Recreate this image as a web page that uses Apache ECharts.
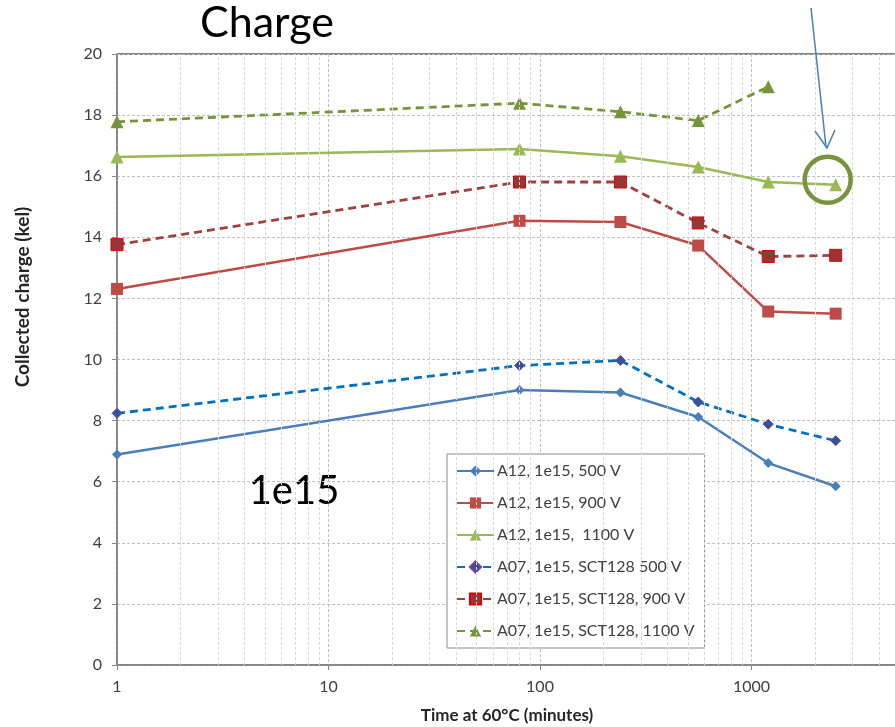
<!DOCTYPE html>
<html>
<head>
<meta charset="utf-8">
<script src="https://cdn.jsdelivr.net/npm/echarts@6/dist/echarts.min.js"></script>
<style>
  html, body { margin: 0; padding: 0; background: #fff; }
  #chart { width: 895px; height: 727px; }
</style>
</head>
<body>
<div id="chart"></div>
<script>
// time at 60C (minutes)
const times = [1, 80, 240, 560, 1200, 2500];

const a12_500 = [6.89, 9.00, 8.92, 8.12, 6.61, 5.85];
const a12_900 = [12.31, 14.54, 14.50, 13.73, 11.57, 11.50];
const a12_1100 = [16.63, 16.89, 16.65, 16.30, 15.81, 15.72];
const a07_500 = [8.24, 9.80, 9.97, 8.61, 7.88, 7.34];
const a07_900 = [13.76, 15.81, 15.81, 14.47, 13.37, 13.41];
const a07_1100 = [17.78, 18.39, 18.11, 17.82, 18.93, null];

const seriesNames = [
    'A12, 1e15, 500 V',
    'A12, 1e15, 900 V',
    'A12, 1e15,  1100 V',
    'A07, 1e15, SCT128 500 V',
    'A07, 1e15, SCT128, 900 V',
    'A07, 1e15, SCT128, 1100 V'
];

const xTickLabels = ['1', '10', '100', '1000', '10000'];
const decades = [1, 10, 100, 1000];

const FONT = 'Lato';

// minor gridlines at 2..9 of each decade
const minorLines = [];
decades.forEach(d => {
    for (let m = 2; m <= 9; m++) minorLines.push({ xAxis: d * m });
});

const pairs = vals => times.map((t, i) => [t, vals[i]]);

function makeSeries(name, vals, opts) {
    return {
        name: name,
        type: 'line',
        data: pairs(vals),
        symbol: opts.symbol,
        symbolSize: opts.size,
        showAllSymbol: true,
        connectNulls: false,
        z: 3,
        lineStyle: { color: opts.line, width: opts.width || 2.5, type: opts.dash ? [8, 5] : 'solid' },
        itemStyle: { color: opts.fill, borderColor: opts.border || opts.fill, borderWidth: opts.border ? 1 : 0 },
        emphasis: { disabled: true },
        animation: false
    };
}

const chart = echarts.init(document.getElementById('chart'));

const series = [
    {
        type: 'line',
        data: [],
        z: 1,
        silent: true,
        animation: false,
        markLine: {
            silent: true,
            symbol: ['none', 'none'],
            label: { show: false },
            animation: false,
            lineStyle: { color: '#d9d9d9', type: [3, 2], width: 1 },
            data: minorLines
        }
    },
    makeSeries(seriesNames[0], a12_500, { symbol: 'diamond', size: 10, line: '#4A7EBB', fill: '#4A7EBB' }),
    makeSeries(seriesNames[1], a12_900, { symbol: 'rect', size: 12, line: '#BE4B48', fill: '#BE4B48' }),
    makeSeries(seriesNames[2], a12_1100, { symbol: 'triangle', size: 13, line: '#98B954', fill: '#98B954' }),
    makeSeries(seriesNames[3], a07_500, { symbol: 'diamond', size: 10, line: '#0070C0', fill: '#2F5597', border: '#7B3F9E', dash: true, width: 2.8 }),
    makeSeries(seriesNames[4], a07_900, { symbol: 'rect', size: 12, line: '#A0403E', fill: '#953735', border: '#E00000', dash: true, width: 2.8 }),
    makeSeries(seriesNames[5], a07_1100, { symbol: 'triangle', size: 13, line: '#77933C', fill: '#77933C', dash: true, width: 2.8 })
];

// green circle around the last 1100 V point
series[3].markPoint = {
    silent: true,
    animation: false,
    symbol: 'circle',
    symbolSize: 46,
    symbolOffset: [-8, -5],
    label: { show: false },
    itemStyle: { color: 'rgba(0,0,0,0)', borderColor: '#77933C', borderWidth: 4.5 },
    data: [{ coord: [times[5], a12_1100[5]] }]
};

chart.setOption({
    backgroundColor: '#fff',
    animation: false,
    textStyle: { fontFamily: FONT },
    grid: {
        left: 117, top: 54, bottom: 62, right: -68,
        outerBoundsMode: 'none',
        containLabel: false,
        show: true, borderColor: '#000', borderWidth: 1
    },
    legend: {
        data: seriesNames,
        orient: 'vertical',
        left: 447,
        top: 454,
        padding: [9, 10, 9, 9],
        itemGap: 16,
        itemWidth: 37,
        itemHeight: 14,
        backgroundColor: '#fff',
        borderColor: '#8c8c8c',
        borderWidth: 1,
        textStyle: { fontFamily: FONT, fontSize: 16, color: '#404040', padding: [0, 0, 0, -2] }
    },
    xAxis: {
        type: 'log',
        logBase: 10,
        min: 1,
        max: 10000,
        axisLine: { lineStyle: { color: '#868686', width: 1.5 } },
        axisTick: { show: true, length: 5, lineStyle: { color: '#868686' } },
        axisLabel: {
            fontSize: 16, color: '#404040', margin: 14,
            formatter: v => xTickLabels[Math.round(Math.log10(v))]
        },
        splitLine: { show: true, lineStyle: { color: '#bfbfbf', type: [3, 2] } }
    },
    yAxis: {
        type: 'value',
        min: 0,
        max: 20,
        interval: 2,
        axisLine: { show: true, lineStyle: { color: '#868686', width: 1.5 } },
        axisTick: { show: true, length: 5, lineStyle: { color: '#868686' } },
        axisLabel: { fontSize: 16, color: '#404040', margin: 15 },
        splitLine: { show: true, lineStyle: { color: '#bfbfbf', type: [3, 2] } }
    },
    series: series,
    graphic: [
        {
            type: 'text', left: 200, top: 2,
            style: { text: 'Charge', font: '43px ' + FONT, fill: '#000' }
        },
        {
            type: 'text', x: 294, y: 491,
            style: { text: '1e15', font: '40px ' + FONT, fill: '#000', align: 'center', verticalAlign: 'middle' }
        },
        {
            type: 'text', x: 23, y: 297, rotation: Math.PI / 2,
            style: { text: 'Collected charge (kel)', font: 'bold 19px ' + FONT, fill: '#262626', align: 'center', verticalAlign: 'middle' }
        },
        {
            type: 'text', x: 507, y: 716,
            style: { text: 'Time at 60°C (minutes)', font: 'bold 17px ' + FONT, fill: '#262626', align: 'center', verticalAlign: 'middle' }
        },
        {
            type: 'polyline', z: 10,
            shape: { points: [[811, 8], [826, 147]] },
            style: { stroke: '#4A7EBB', lineWidth: 1.5, fill: null }
        },
        {
            type: 'polyline', z: 10,
            shape: { points: [[815, 131], [827, 148], [835, 130]] },
            style: { stroke: '#4A7EBB', lineWidth: 1.5, fill: null }
        }
    ]
});
</script>
</body>
</html>
